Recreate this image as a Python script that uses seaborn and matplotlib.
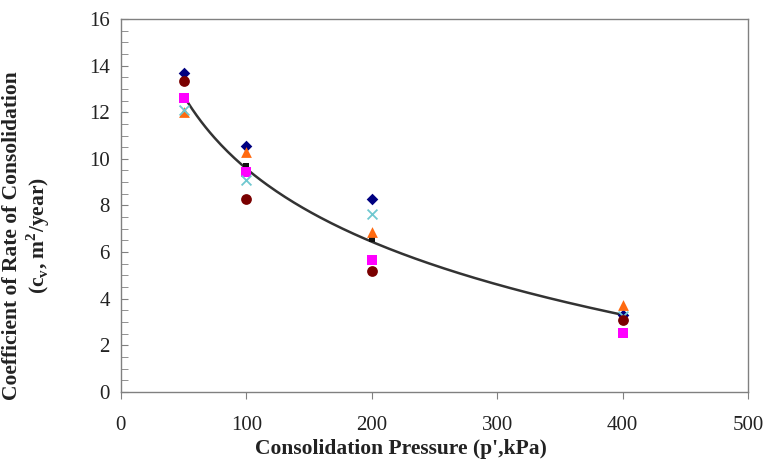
import numpy as np
import pandas as pd
import matplotlib
matplotlib.use("Agg")
import matplotlib.pyplot as plt
import seaborn as sns
from matplotlib.ticker import MultipleLocator

# --- data ---
pressure = [50, 100, 200, 400]
series_names = ["Mean", "Sample 1", "Sample 2", "Sample 3", "Sample 4", "Sample 5"]
cv_mean = [12.6, 9.7, 6.55, 3.2]
cv_s1 = [13.7, 10.55, 8.28, 3.3]   # navy diamond
cv_s2 = [12.6, 9.43, 5.67, 2.55]   # magenta square
cv_s3 = [12.0, 10.3, 6.85, 3.73]   # orange triangle
cv_s4 = [12.1, 9.1, 7.63, 3.25]    # cyan cross
cv_s5 = [13.32, 8.27, 5.2, 3.1]    # dark red circle

rows = []
for name, vals in zip(series_names, [cv_mean, cv_s1, cv_s2, cv_s3, cv_s4, cv_s5]):
    for p, v in zip(pressure, vals):
        rows.append({"p": p, "cv": v, "series": name})
df = pd.DataFrame(rows)

palette = {"Mean": "#111111", "Sample 1": "#000080", "Sample 2": "#FF00FF",
           "Sample 3": "#FF6A10", "Sample 4": "#6FC8D0", "Sample 5": "#7A0000"}
markers = {"Mean": "s", "Sample 1": "D", "Sample 2": "s",
           "Sample 3": "^", "Sample 4": "x", "Sample 5": "o"}
sizes = {"Mean": 22, "Sample 1": 35, "Sample 2": 60,
         "Sample 3": 60, "Sample 4": 50, "Sample 5": 60}

sns.set_style("ticks")
plt.rcParams["font.family"] = ["Liberation Serif", "DejaVu Serif"]

fig = plt.figure(figsize=(7.65, 4.62), dpi=100)
ax = fig.add_axes([0.158, 0.1515, 0.82, 0.8075])

# logarithmic trendline fitted to the mean values
coef = np.polyfit(np.log(pressure), cv_mean, 1)
xs = np.linspace(50, 400, 200)
ax.plot(xs, coef[0] * np.log(xs) + coef[1], color="#333333", lw=1.8, zorder=1)

for name in series_names:
    sub = df[df["series"] == name]
    z = 2 if name == "Mean" else 3
    lw = 1.3 if markers[name] == "x" else 0
    sns.scatterplot(data=sub, x="p", y="cv", marker=markers[name], color=palette[name],
                    s=sizes[name], linewidth=lw, ax=ax, zorder=z, legend=False)

ax.set_xlim(0, 500)
ax.set_ylim(0, 16)
ax.xaxis.set_major_locator(MultipleLocator(100))
ax.yaxis.set_major_locator(MultipleLocator(2))
ax.yaxis.set_minor_locator(MultipleLocator(0.5))
ax.tick_params(axis="x", direction="out", length=5, color="#808080", labelsize=15,
               labelcolor="#222222", pad=12)
ax.tick_params(axis="y", which="both", direction="in", length=5, color="#808080", labelsize=15,
               labelcolor="#222222", pad=8)
for s in ax.spines.values():
    s.set_color("#808080")
    s.set_linewidth(1.0)

ax.set_xlabel("Consolidation Pressure (p',kPa)", fontsize=15.5, fontweight="bold",
              color="#222222")
ax.xaxis.set_label_coords(0.447, -0.127)
ax.set_ylabel("Coefficient of Rate of Consolidation\n(c$_\\mathregular{v}$, m$^\\mathregular{2}$/year)",
              fontsize=15.5, fontweight="bold", color="#222222", linespacing=1.1)
ax.yaxis.set_label_coords(-0.11, 0.418)

fig.savefig("out.png", dpi=100)
